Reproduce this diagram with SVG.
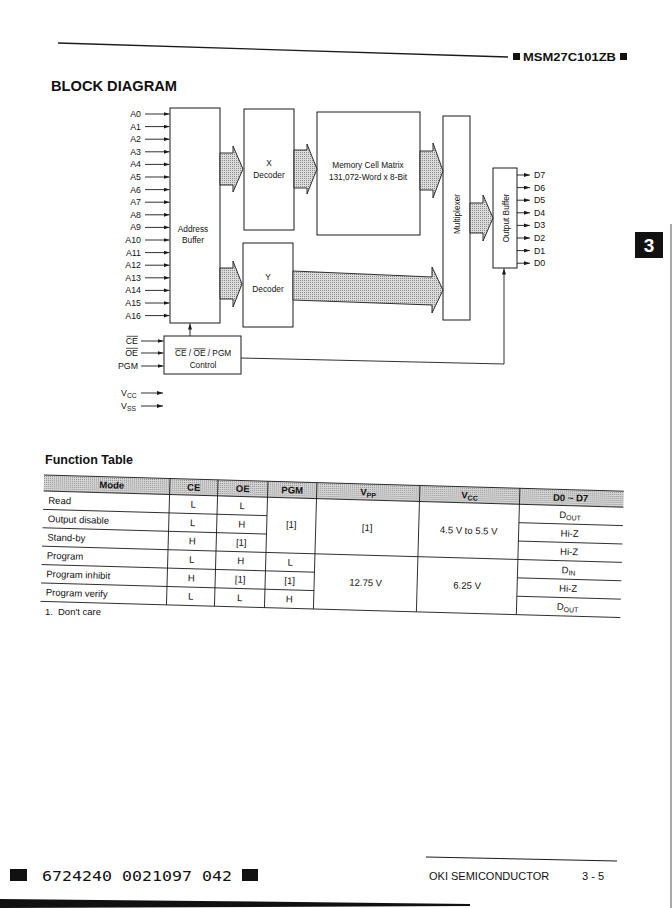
<svg xmlns="http://www.w3.org/2000/svg" width="672" height="908" viewBox="0 0 672 908">
<style>
text{font-family:"Liberation Sans",Arial,sans-serif;fill:#111}
.s{font-size:8.3px}
.sc{font-size:8.3px;text-anchor:middle}
.lab{font-size:8.8px;text-anchor:end}
.dl{font-size:8.8px}
.box{fill:#fff;stroke:#1a1a1a;stroke-width:1}
.w{fill:none;stroke:#1a1a1a;stroke-width:0.9}
.wa{fill:url(#stip);stroke:#1a1a1a;stroke-width:0.9}
.t{font-size:9.5px}
.tc{font-size:9.5px;text-anchor:middle}
.th{font-size:9.5px;font-weight:bold;text-anchor:middle}
.tl{stroke:#1a1a1a;stroke-width:0.9;fill:none}
</style>
<defs>
<pattern id="stip" width="2" height="2" patternUnits="userSpaceOnUse"><rect width="2" height="2" fill="#dcdcdc"/><rect width="1" height="1" fill="#8a8a8a"/></pattern>
<pattern id="stip2" width="2" height="2" patternUnits="userSpaceOnUse"><rect width="2" height="2" fill="#d8d8d8"/><rect width="1" height="1" fill="#8a8a8a"/></pattern>
<marker id="ah" viewBox="0 0 6 4" markerWidth="6" markerHeight="4" markerUnits="userSpaceOnUse" refX="6" refY="2" orient="auto"><path d="M0,0 L6,2 L0,4 z" fill="#1a1a1a"/></marker>
</defs>
<rect width="672" height="908" fill="#fff"/>

<!-- page header -->
<g id="page-header">
<line x1="58" y1="43" x2="508" y2="57" stroke="#1a1a1a" stroke-width="1.4"/>
<rect x="513" y="53" width="7" height="7" fill="#111"/>
<text x="523" y="61" style="font-size:11.5px;font-weight:bold" textLength="93" lengthAdjust="spacingAndGlyphs">MSM27C101ZB</text>
<rect x="620" y="53" width="7" height="7" fill="#111"/>
<text x="51" y="91" style="font-size:14.5px;font-weight:bold" textLength="126" lengthAdjust="spacingAndGlyphs">BLOCK DIAGRAM</text>
<rect x="635" y="232" width="28" height="26" fill="#111"/>
<text x="649" y="252" style="font-size:19px;font-weight:bold;fill:#fff;text-anchor:middle">3</text>
<line x1="671" y1="224" x2="671" y2="908" stroke="#555" stroke-width="1"/>
</g>

<!-- nodes -->
<g id="address-buffer">
<rect class="box" x="170" y="108" width="50" height="215"/>
<text class="sc" x="193" y="232">Address</text>
<text class="sc" x="193" y="243">Buffer</text>
</g>
<g id="x-decoder">
<rect class="box" x="244" y="109" width="50" height="121"/>
<text class="sc" x="269" y="166">X</text>
<text class="sc" x="269" y="178">Decoder</text>
</g>
<g id="y-decoder">
<rect class="box" x="243" y="243" width="50" height="84"/>
<text class="sc" x="268" y="280">Y</text>
<text class="sc" x="268" y="292">Decoder</text>
</g>
<g id="memory-cell-matrix">
<rect class="box" x="317" y="112" width="103" height="123"/>
<text class="sc" x="368" y="168">Memory Cell Matrix</text>
<text class="sc" x="368" y="180">131,072-Word x 8-Bit</text>
</g>
<g id="multiplexer">
<rect class="box" x="443" y="116" width="27" height="204"/>
<text class="sc" x="459.5" y="214" transform="rotate(-90 459.5 214)">Multiplexer</text>
</g>
<g id="output-buffer">
<rect class="box" x="493" y="168" width="24" height="100"/>
<text class="sc" x="509" y="218" transform="rotate(-90 509 218)">Output Buffer</text>
</g>
<g id="control">
<rect class="box" x="164" y="336" width="77" height="38"/>
<text class="s" x="175" y="356">CE / OE / PGM</text>
<line x1="175" y1="348.8" x2="186.5" y2="348.8" stroke="#111" stroke-width="0.7"/>
<line x1="193.5" y1="348.8" x2="205.5" y2="348.8" stroke="#111" stroke-width="0.7"/>
<text class="sc" x="203" y="368">Control</text>
</g>

<!-- input / output labels -->
<g id="address-inputs">
<text class="lab" x="141" y="117">A0</text>
<text class="lab" x="141" y="129.6">A1</text>
<text class="lab" x="141" y="142.2">A2</text>
<text class="lab" x="141" y="154.8">A3</text>
<text class="lab" x="141" y="167.4">A4</text>
<text class="lab" x="141" y="180">A5</text>
<text class="lab" x="141" y="192.6">A6</text>
<text class="lab" x="141" y="205.2">A7</text>
<text class="lab" x="141" y="217.8">A8</text>
<text class="lab" x="141" y="230.4">A9</text>
<text class="lab" x="141" y="243">A10</text>
<text class="lab" x="141" y="255.6">A11</text>
<text class="lab" x="141" y="268.2">A12</text>
<text class="lab" x="141" y="280.8">A13</text>
<text class="lab" x="141" y="293.4">A14</text>
<text class="lab" x="141" y="306">A15</text>
<text class="lab" x="141" y="318.6">A16</text>
</g>
<g id="control-inputs">
<text class="lab" x="138" y="344">CE</text>
<line x1="126.5" y1="336.3" x2="138" y2="336.3" stroke="#111" stroke-width="0.7"/>
<text class="lab" x="138" y="356">OE</text>
<line x1="126" y1="348.3" x2="138" y2="348.3" stroke="#111" stroke-width="0.7"/>
<text class="lab" x="138" y="369">PGM</text>
<text class="dl" x="121" y="396">V<tspan style="font-size:6.8px" dy="2">CC</tspan></text>
<text class="dl" x="121" y="409">V<tspan style="font-size:6.8px" dy="2">SS</tspan></text>
</g>
<g id="data-outputs">
<text class="dl" x="534" y="178">D7</text>
<text class="dl" x="534" y="190.6">D6</text>
<text class="dl" x="534" y="203.2">D5</text>
<text class="dl" x="534" y="215.8">D4</text>
<text class="dl" x="534" y="228.4">D3</text>
<text class="dl" x="534" y="241">D2</text>
<text class="dl" x="534" y="253.6">D1</text>
<text class="dl" x="534" y="266.2">D0</text>
</g>

<!-- connectors -->
<g id="connectors">
<g class="w" marker-end="url(#ah)">
<line x1="145" y1="114" x2="169.5" y2="114"/>
<line x1="145" y1="126.6" x2="169.5" y2="126.6"/>
<line x1="145" y1="139.2" x2="169.5" y2="139.2"/>
<line x1="145" y1="151.8" x2="169.5" y2="151.8"/>
<line x1="145" y1="164.4" x2="169.5" y2="164.4"/>
<line x1="145" y1="177" x2="169.5" y2="177"/>
<line x1="145" y1="189.6" x2="169.5" y2="189.6"/>
<line x1="145" y1="202.2" x2="169.5" y2="202.2"/>
<line x1="145" y1="214.8" x2="169.5" y2="214.8"/>
<line x1="145" y1="227.4" x2="169.5" y2="227.4"/>
<line x1="145" y1="240" x2="169.5" y2="240"/>
<line x1="145" y1="252.6" x2="169.5" y2="252.6"/>
<line x1="145" y1="265.2" x2="169.5" y2="265.2"/>
<line x1="145" y1="277.8" x2="169.5" y2="277.8"/>
<line x1="145" y1="290.4" x2="169.5" y2="290.4"/>
<line x1="145" y1="303" x2="169.5" y2="303"/>
<line x1="145" y1="315.6" x2="169.5" y2="315.6"/>
<line x1="141" y1="341" x2="163.5" y2="341"/>
<line x1="141" y1="353" x2="163.5" y2="353"/>
<line x1="141" y1="366" x2="163.5" y2="366"/>
<line x1="141" y1="393" x2="163" y2="393"/>
<line x1="141" y1="406" x2="163" y2="406"/>
<line x1="517" y1="175" x2="530" y2="175"/>
<line x1="517" y1="187.6" x2="530" y2="187.6"/>
<line x1="517" y1="200.2" x2="530" y2="200.2"/>
<line x1="517" y1="212.8" x2="530" y2="212.8"/>
<line x1="517" y1="225.4" x2="530" y2="225.4"/>
<line x1="517" y1="238" x2="530" y2="238"/>
<line x1="517" y1="250.6" x2="530" y2="250.6"/>
<line x1="517" y1="263.2" x2="530" y2="263.2"/>
<line x1="190" y1="336" x2="190" y2="323.5"/>
<polyline points="241,358 504,364 504,268.5"/>
</g>
<polygon class="wa" points="220,153 233,153 233,146 243,169 233,192 233,185 220,185"/>
<polygon class="wa" points="220,268 233,268 233,261 242,284 233,307 233,299 220,299"/>
<polygon class="wa" points="294,150 307,150 307,144 317,169 307,194 307,188 294,188"/>
<polygon class="wa" points="420,151 433,151 433,143 443,171 433,198 433,190 420,190"/>
<polygon class="wa" points="470,203 483,203 483,195 493,218 483,241 483,233 470,233"/>
<polygon class="wa" points="293,271 432,277 432,267 443,290 432,313 432,305 293,300"/>
</g>

<!-- function table -->
<text x="45" y="464" style="font-size:12.5px;font-weight:bold">Function Table</text>
<g id="function-table" transform="rotate(1.6 44 477)">
<rect x="44" y="475" width="580" height="16" fill="url(#stip2)"/>
<line class="tl" x1="44" y1="475" x2="624" y2="475" stroke-width="0.6"/>
<line class="tl" x1="44" y1="491" x2="624" y2="491" stroke-width="1.4"/>
<line class="tl" x1="44" y1="509.4" x2="268" y2="509.4"/>
<line class="tl" x1="44" y1="527.8" x2="268" y2="527.8"/>
<line class="tl" x1="44" y1="546.2" x2="624" y2="546.2"/>
<line class="tl" x1="44" y1="564.6" x2="317" y2="564.6"/>
<line class="tl" x1="44" y1="583" x2="317" y2="583"/>
<line class="tl" x1="520" y1="509.4" x2="624" y2="509.4"/>
<line class="tl" x1="520" y1="527.8" x2="624" y2="527.8"/>
<line class="tl" x1="520" y1="564.6" x2="624" y2="564.6"/>
<line class="tl" x1="520" y1="583" x2="624" y2="583"/>
<line class="tl" x1="44" y1="601.4" x2="624" y2="601.4" stroke-width="1.4"/>
<line class="tl" x1="170" y1="475" x2="170" y2="601.4"/>
<line class="tl" x1="218" y1="475" x2="218" y2="601.4"/>
<line class="tl" x1="268" y1="475" x2="268" y2="601.4"/>
<line class="tl" x1="317" y1="475" x2="317" y2="601.4"/>
<line class="tl" x1="420" y1="475" x2="420" y2="601.4"/>
<line class="tl" x1="520" y1="475" x2="520" y2="601.4"/>
<text class="th" x="112" y="486.5">Mode</text>
<text class="th" x="194" y="486.5">CE</text>
<text class="th" x="243" y="486.5">OE</text>
<text class="th" x="292.5" y="486.5">PGM</text>
<text class="th" x="368.5" y="486.5">V<tspan style="font-size:7px" dy="2">PP</tspan></text>
<text class="th" x="470" y="486.5">V<tspan style="font-size:7px" dy="2">CC</tspan></text>
<text class="th" x="571" y="486.5">D0 ~ D7</text>
<text class="t" x="49" y="503.5">Read</text>
<text class="t" x="49" y="522">Output disable</text>
<text class="t" x="49" y="540.3">Stand-by</text>
<text class="t" x="49" y="558.7">Program</text>
<text class="t" x="49" y="577.1">Program inhibit</text>
<text class="t" x="49" y="595.5">Program verify</text>
<text class="tc" x="194" y="503.5">L</text>
<text class="tc" x="194" y="522">L</text>
<text class="tc" x="194" y="540.3">H</text>
<text class="tc" x="194" y="558.7">L</text>
<text class="tc" x="194" y="577.1">H</text>
<text class="tc" x="194" y="595.5">L</text>
<text class="tc" x="243" y="503.5">L</text>
<text class="tc" x="243" y="522">H</text>
<text class="tc" x="243" y="540.3">[1]</text>
<text class="tc" x="243" y="558.7">H</text>
<text class="tc" x="243" y="577.1">[1]</text>
<text class="tc" x="243" y="595.5">L</text>
<text class="tc" x="292.5" y="521">[1]</text>
<text class="tc" x="292.5" y="558.7">L</text>
<text class="tc" x="292.5" y="577.1">[1]</text>
<text class="tc" x="292.5" y="595.5">H</text>
<text class="tc" x="368.5" y="522">[1]</text>
<text class="tc" x="368.5" y="577">12.75 V</text>
<text class="tc" x="470" y="522">4.5 V to 5.5 V</text>
<text class="tc" x="470" y="577">6.25 V</text>
<text class="tc" x="571" y="503.5">D<tspan style="font-size:7px" dy="2">OUT</tspan></text>
<text class="tc" x="571" y="522">Hi-Z</text>
<text class="tc" x="571" y="540.3">Hi-Z</text>
<text class="tc" x="571" y="558.7">D<tspan style="font-size:7px" dy="2">IN</tspan></text>
<text class="tc" x="571" y="577.1">Hi-Z</text>
<text class="tc" x="571" y="595.5">D<tspan style="font-size:7px" dy="2">OUT</tspan></text>
</g>
<text class="t" x="45" y="615">1.</text>
<text class="t" x="58" y="615">Don't care</text>

<!-- footer -->
<g id="footer">
<rect x="10" y="869" width="17" height="12" fill="#111"/>
<text x="42" y="881" style="font-family:'DejaVu Sans Mono',monospace;font-size:14px" textLength="190" lengthAdjust="spacingAndGlyphs">6724240 0021097 042</text>
<rect x="242" y="869" width="16" height="12" fill="#111"/>
<line x1="426" y1="857" x2="617" y2="861" stroke="#1a1a1a" stroke-width="1"/>
<text x="429" y="880" style="font-size:11px">OKI SEMICONDUCTOR</text>
<text x="582" y="880" style="font-size:11px">3 - 5</text>
<polygon points="0,899 200,901 470,904 470,906 0,908" fill="#111"/>
</g>
</svg>
